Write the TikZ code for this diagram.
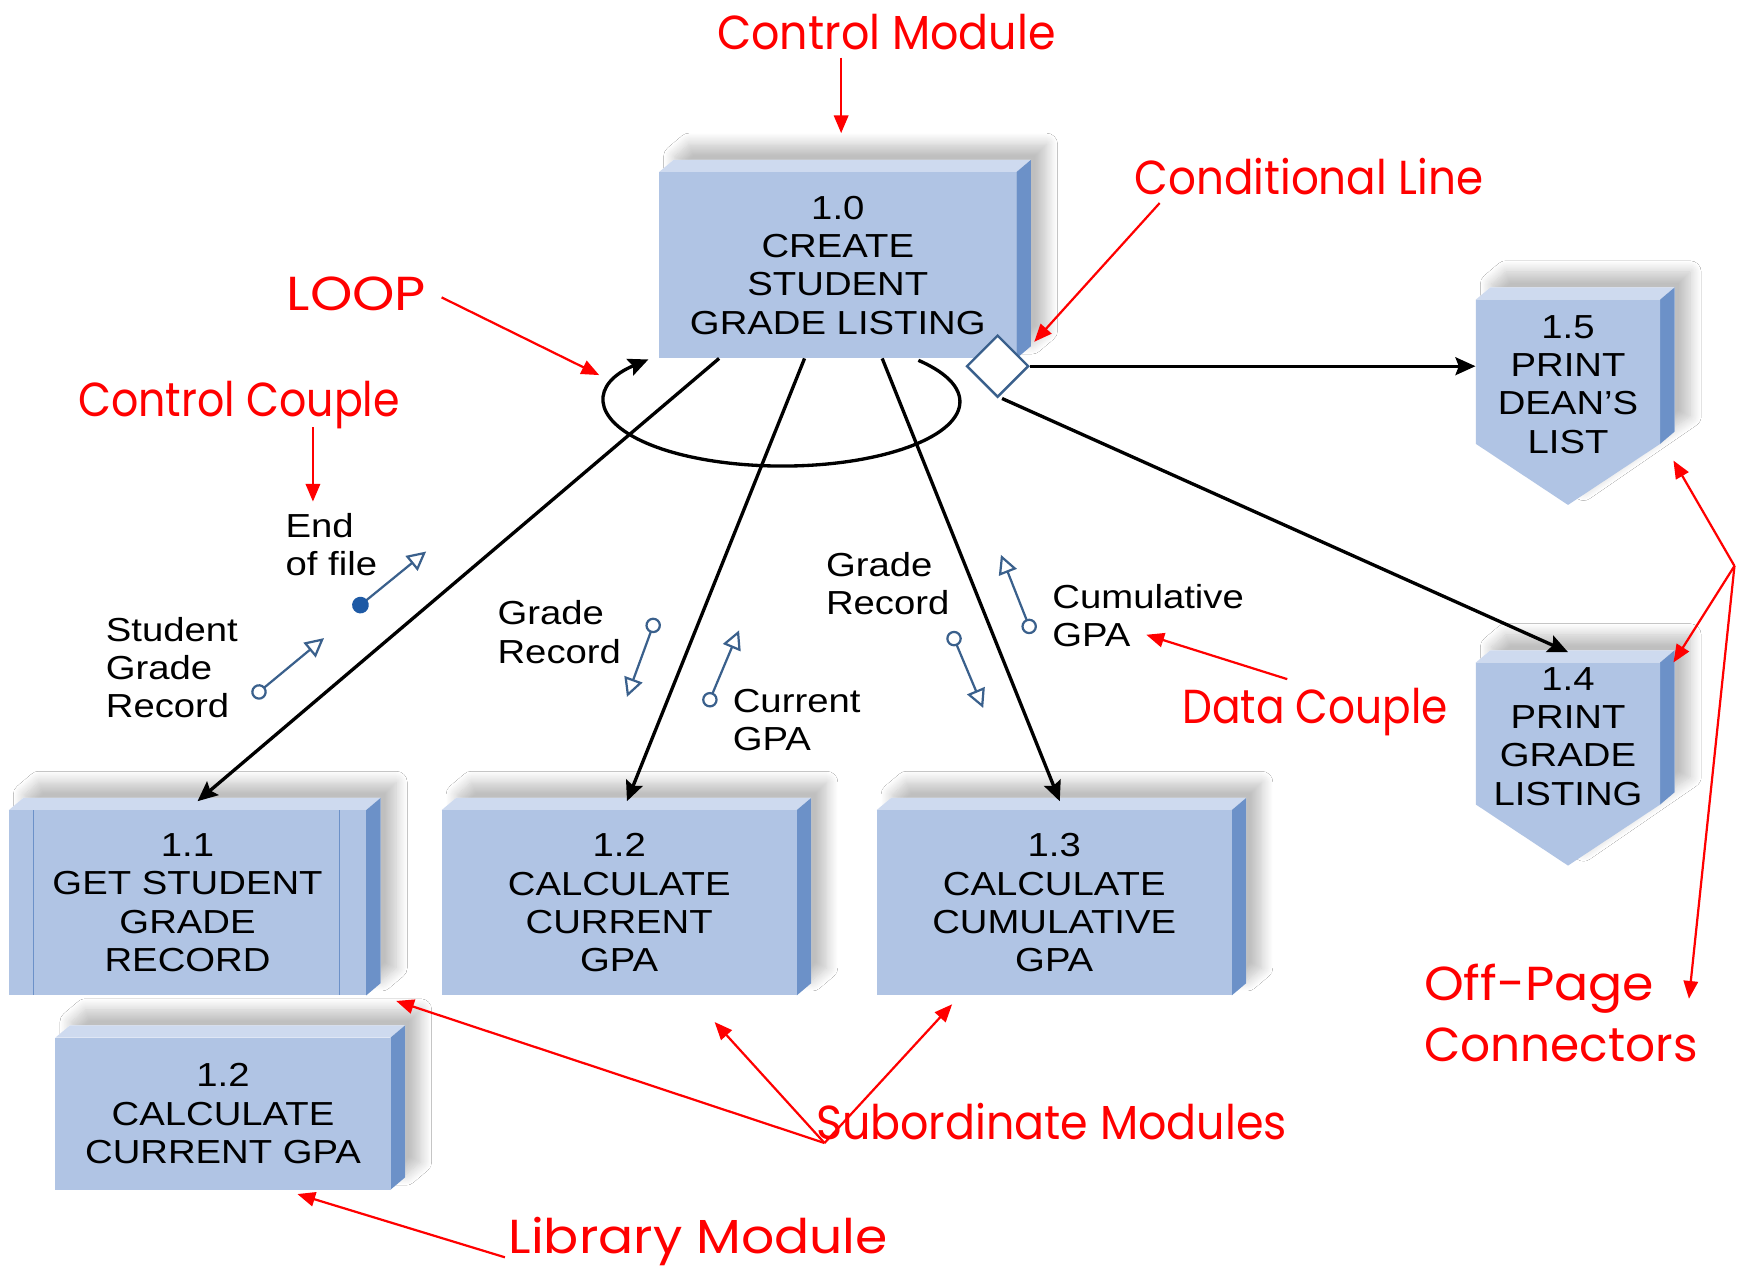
\documentclass[tikz,border=0pt]{standalone}
\usepackage{fontspec}
\setmainfont{Liberation Sans}
\newfontfamily\boxfont{Liberation Sans}[FakeStretch=1.15]
\newfontfamily\redfont{Poppins}
\usetikzlibrary{arrows.meta,shapes.geometric,shadows.blur,calc}
\definecolor{frontc}{RGB}{176,196,228}
\definecolor{topc}{RGB}{206,218,239}
\definecolor{sidec}{RGB}{108,145,200}
\definecolor{couplec}{RGB}{58,96,140}
\definecolor{eofc}{RGB}{30,90,165}
\definecolor{annred}{RGB}{255,0,0}
\tikzset{
  boxtext/.style={font=\boxfont\fontsize{15}{17.25}\selectfont, align=center, text=black},
  modfront/.style={boxtext, fill=frontc, inner sep=0pt, outer sep=0pt},
  shadowed/.style={fill=white, blur shadow={shadow xshift=7pt, shadow yshift=7pt, shadow blur radius=5pt, shadow blur steps=12, shadow opacity=25}},
  conn/.style={line width=1.5pt, black, -{Stealth[length=9pt,width=8pt,inset=1.5pt]}},
  couple/.style={line width=1pt, couplec, {Circle[open,length=7pt,width=7pt]}-{Triangle[open,length=8.5pt,width=8.5pt]}},
  ctrlcouple/.style={line width=1pt, couplec, {Circle[length=7.5pt,width=7.5pt,fill=eofc,color=eofc]}-{Triangle[open,length=8.5pt,width=8.5pt]}},
  cplabel/.style={font=\boxfont\fontsize{15}{17.25}\selectfont, align=left, anchor=west, inner sep=0pt},
  ann/.style={font=\redfont\fontsize{21.5}{27}\selectfont, text=annred, anchor=base west, inner sep=0pt},
  annarrow/.style={annred, line width=1pt, -{Triangle[length=8pt,width=6.5pt]}},
}
\newcommand\sx[2]{\scalebox{#1}[1]{#2}}
\newcommand\drawmodule[6]{%
  \fill[shadowed] (#2,#3) -- (#2+13,#3-11) -- (#4+13,#3-11) -- (#4+13,#5-11) -- (#4,#5) -- (#2,#5) -- cycle;
  \fill[topc] (#2,#3) -- (#2+13,#3-11) -- (#4+13,#3-11) -- (#4,#3) -- cycle;
  \fill[sidec] (#4,#3) -- (#4+13,#3-11) -- (#4+13,#5-11) -- (#4,#5) -- cycle;
  \node[modfront, minimum width={(#4-#2)*0.5pt}, minimum height={(#5-#3)*0.5pt}] (#1) at ({(#2+#4)/2},{(#3+#5)/2}) {#6};
}
% off-page connector: name, x1, y1 (top), x2, y2 (start of point), tip y, text center y, text
\newcommand\drawoffpage[8]{%
  \fill[shadowed] (#2,#3) -- (#2+13,#3-11) -- (#4+13,#3-11) -- (#4+13,#5-11) -- ({(#2+#4)/2},#6) -- (#2,#5) -- cycle;
  \fill[topc] (#2,#3) -- (#2+13,#3-11) -- (#4+13,#3-11) -- (#4,#3) -- cycle;
  \fill[sidec] (#4,#3) -- (#4+13,#3-11) -- (#4+13,#5-11) -- (#4,#5) -- cycle;
  \fill[frontc] (#2,#3) -- (#4,#3) -- (#4,#5) -- ({(#2+#4)/2},#6) -- (#2,#5) -- cycle;
  \node[inner sep=0pt, minimum width={(#4-#2)*0.5pt}, minimum height={(#5-#3)*0.5pt}] (#1) at ({(#2+#4)/2},{(#3+#5)/2}) {};
  \node[boxtext, inner sep=0pt] (#1-text) at ({(#2+#4)/2},#7) {#8};
}
\begin{document}
\begin{tikzpicture}[x=0.5pt,y=-0.5pt]
\useasboundingbox[fill=white] (0,0) rectangle (1568,1142);

% ---- modules ----
\drawmodule{m10}{594}{155}{916}{323}{1.0\\CREATE\\STUDENT\\GRADE LISTING}
\drawmodule{m11}{8}{730}{330}{897}{1.1\\GET STUDENT\\GRADE\\RECORD}
\draw[sidec, line width=0.6pt] (30,730) -- (30,897) (306,730) -- (306,897);
\drawmodule{m12}{398}{730}{718}{897}{1.2\\CALCULATE\\CURRENT\\GPA}
\drawmodule{m13}{790}{730}{1110}{897}{1.3\\CALCULATE\\CUMULATIVE\\GPA}
\drawmodule{lib}{50}{935}{352}{1072}{1.2\\CALCULATE\\CURRENT GPA}
\drawoffpage{m15}{1330}{270}{1496}{400}{455}{346.5}{1.5\\PRINT\\DEAN’S\\LIST}
\drawoffpage{m14}{1330}{597}{1496}{725}{780}{663.5}{1.4\\PRINT\\GRADE\\LISTING}

% ---- conditional diamond ----
\node[diamond, draw=couplec, fill=white, line width=1.1pt, minimum width=28pt, minimum height=28pt, inner sep=0pt] (cond) at (899,330) {};

% ---- black connectors ----
\draw[conn] ([xshift=27pt]m10.south west) -- ([xshift=85pt,yshift=4pt]m11.north west);
\draw[conn] ([xshift=65.5pt]m10.south west) -- ([xshift=83.5pt,yshift=4pt]m12.north west);
\draw[conn] ([xshift=100.5pt]m10.south west) -- ([xshift=82.5pt,yshift=4pt]m13.north west);
\draw[conn] (cond.east) -- (m15.west |- cond.east);
\draw[conn] ([xshift=2pt]cond.south) -- ([yshift=4.5pt]m14.north);

% ---- loop ----
\coordinate (loopstart) at (827.6,324.7);
\draw[conn] (loopstart) arc[start angle=-40, end angle=221, x radius=160, y radius=58];

% ---- couples ----
\coordinate (c1a) at (228,628); \coordinate (c1b) at (292,575);
\draw[couple] (c1a) -- (c1b);
\coordinate (c2a) at (319,550); \coordinate (c2b) at (384,497);
\draw[ctrlcouple] (c2a) -- (c2b);
\coordinate (c3a) at (591,557); \coordinate (c3b) at (565,628);
\draw[couple] (c3a) -- (c3b);
\coordinate (c4a) at (637,637); \coordinate (c4b) at (666,568);
\draw[couple] (c4a) -- (c4b);
\coordinate (c5a) at (857,569); \coordinate (c5b) at (886,638);
\draw[couple] (c5a) -- (c5b);
\coordinate (c6a) at (930,571); \coordinate (c6b) at (902,500);
\draw[couple] (c6a) -- (c6b);

\node[cplabel] (l1) at (95,601.5) {Student\\Grade\\Record};
\node[cplabel] (l2) at (257,490.5) {End\\of file};
\node[cplabel] (l3) at (448,569.5) {Grade\\Record};
\node[cplabel] (l4) at (660,649) {Current\\GPA};
\node[cplabel] (l5) at (744,526) {Grade\\Record};
\node[cplabel] (l6) at (948,555) {Cumulative\\GPA};

% ---- annotations ----
\node[ann] (a1) at (646,45) {\sx{0.93}{Control Module}};
\node[ann] (a2) at (1022,175) {\sx{0.915}{Conditional Line}};
\node[ann] (a3) at (258,280) {\sx{1.13}{LOOP}};
\node[ann] (a4) at (70,375) {\sx{0.895}{Control Couple}};
\node[ann] (a5) at (1065,652) {\sx{0.885}{Data Couple}};
\node[ann] (a6) at (1283,902) {\sx{1.06}{Off-Page}};
\node[ann] (a6b) at (1283,957) {\sx{0.985}{Connectors}};
\node[ann] (a7) at (735,1027) {\sx{0.93}{Subordinate Modules}};
\node[ann] (a8) at (458,1130) {\sx{1.09}{Library Module}};

\coordinate (s1) at (758,52);   \coordinate (t1) at (758,120);
\coordinate (s2) at (1045,183); \coordinate (t2) at (932,308);
\coordinate (s3) at (398,268);  \coordinate (t3) at (540,338);
\coordinate (s4) at (282,385);  \coordinate (t4) at (282,452);
\coordinate (s5) at (1160,612); \coordinate (t5) at (1033,572);
\coordinate (o6) at (1563,510);
\coordinate (t6a) at (1508,415); \coordinate (t6b) at (1508,597); \coordinate (t6c) at (1522,900);
\coordinate (o7) at (743,1030);
\coordinate (t7a) at (357,902); \coordinate (t7b) at (644,921); \coordinate (t7c) at (858,905);
\coordinate (s8) at (455,1133); \coordinate (t8) at (268,1076);

\draw[annarrow] (s1) -- (t1);
\draw[annarrow] (s2) -- (t2);
\draw[annarrow] (s3) -- (t3);
\draw[annarrow] (s4) -- (t4);
\draw[annarrow] (s5) -- (t5);
\draw[annarrow] (o6) -- (t6a);
\draw[annarrow] (o6) -- (t6b);
\draw[annarrow] (o6) -- (t6c);
\draw[annarrow] (o7) -- (t7a);
\draw[annarrow] (o7) -- (t7b);
\draw[annarrow] (o7) -- (t7c);
\draw[annarrow] (s8) -- (t8);
\end{tikzpicture}
\end{document}
